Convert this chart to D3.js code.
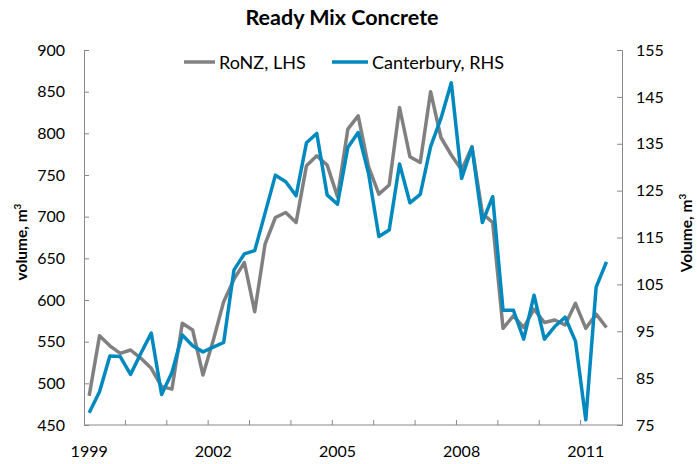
<!DOCTYPE html>
<html>
<head>
<meta charset="utf-8">
<script src="https://cdn.jsdelivr.net/npm/d3@7"></script>
<style>
  body { margin: 0; background: #fff; }
  text { font-family: Lato, "Open Sans", sans-serif; fill: #000; }
</style>
</head>
<body>
<div id="chart"></div>
<script>
// quarterly, 1999 Q1 .. 2011 Q3 (axis runs to 2011 Q4)
const years = d3.range(1999, 2012);
const quarters = [];
years.forEach(y => [1, 2, 3, 4].forEach(q => quarters.push(y + "Q" + q)));

const ronz = [485, 557, 545, 536, 540, 530, 518, 496, 493, 572, 564, 510,
  552, 598, 625, 645, 586, 667, 699, 705, 693, 761, 773, 762,
  724, 805, 821, 760, 727, 738, 831, 772, 765, 850, 795, 774,
  756, 784, 704, 693, 566, 581, 567, 589, 573, 576, 570, 596,
  566, 583, 567];

const canterbury = [77.6, 82.1, 89.7, 89.6, 85.8, 90.3, 94.6, 81.5, 86.2, 94.2, 91.9, 90.6,
  91.6, 92.6, 108.1, 111.5, 112.2, 120.2, 128.3, 126.9, 123.9, 135.2, 137.2, 124.1,
  122.1, 134.2, 137.4, 128.7, 115.2, 116.6, 130.7, 122.4, 124.2, 134.4, 140.4, 148.0,
  127.6, 134.2, 118.2, 123.7, 99.5, 99.5, 93.3, 102.7, 93.3, 96.0, 98.0, 92.9,
  76.1, 104.4, 109.8];

const xLabels = ["1999", "2002", "2005", "2008", "2011"];
const leftTicks = d3.range(450, 901, 50);
const rightTicks = d3.range(75, 156, 10);

const w = 697, h = 464;
const mLeft = 84, mRight = 622, mTop = 50, mBottom = 425;
const grey = "#808080", blue = "#0089bf", axisCol = "#888";

const svg = d3.select("#chart").append("svg")
  .attr("width", w).attr("height", h);

const x = d3.scaleBand().domain(quarters).range([mLeft, mRight]);
const yL = d3.scaleLinear().domain([450, 900]).range([mBottom, mTop]);
const yR = d3.scaleLinear().domain([75, 155]).range([mBottom, mTop]);
const cx = q => x(q) + x.bandwidth() / 2;

// title
svg.append("text").attr("x", 342).attr("y", 25)
  .attr("text-anchor", "middle").attr("font-size", 21.5).attr("font-weight", "bold")
  .text("Ready Mix Concrete");

// left axis
const gL = svg.append("g").attr("transform", "translate(" + mLeft + ",0)")
  .call(d3.axisLeft(yL).tickValues(leftTicks).tickSizeInner(-5).tickSizeOuter(-5).tickPadding(19));
// right axis
const gR = svg.append("g").attr("transform", "translate(" + mRight + ",0)")
  .call(d3.axisRight(yR).tickValues(rightTicks).tickSizeInner(-5).tickSizeOuter(-5).tickPadding(14));
// bottom axis: ticks every year, labels every 3 years
const gB = svg.append("g").attr("transform", "translate(0," + mBottom + ")");
gB.append("line").attr("x1", mLeft).attr("x2", mRight).attr("stroke", axisCol);
gB.selectAll(".tk").data(quarters.filter((q, i) => i % 4 === 0 && i > 0))
  .enter().append("line")
  .attr("x1", d => x(d)).attr("x2", d => x(d)).attr("y1", 0).attr("y2", -5)
  .attr("stroke", axisCol);
gB.selectAll(".lb").data(xLabels).enter().append("text")
  .attr("x", d => cx(d + "Q1")).attr("y", 32)
  .attr("text-anchor", "middle").attr("font-size", 16).text(d => d);

[gL, gR].forEach(g => {
  g.select(".domain").attr("stroke", axisCol);
  g.selectAll(".tick line").attr("stroke", axisCol);
  g.selectAll(".tick text").attr("font-size", 16)
    .style("font-family", "Lato, sans-serif").attr("fill", "#000");
});

// axis titles
svg.append("text").attr("transform", "translate(27,242) rotate(-90)")
  .attr("text-anchor", "middle").attr("font-size", 15.5).attr("font-weight", "bold")
  .html("volume, m<tspan dy='-6' font-size='10'>3</tspan>");
svg.append("text").attr("transform", "translate(692,233) rotate(-90)")
  .attr("text-anchor", "middle").attr("font-size", 15.5).attr("font-weight", "bold")
  .html("Volume, m<tspan dy='-6' font-size='10'>3</tspan>");

// lines
const lineL = d3.line().x((d, i) => cx(quarters[i])).y(d => yL(d));
const lineR = d3.line().x((d, i) => cx(quarters[i])).y(d => yR(d));
svg.append("path").datum(ronz).attr("d", lineL)
  .attr("fill", "none").attr("stroke", grey).attr("stroke-width", 3.5)
  .attr("stroke-linejoin", "round");
svg.append("path").datum(canterbury).attr("d", lineR)
  .attr("fill", "none").attr("stroke", blue).attr("stroke-width", 3.5)
  .attr("stroke-linejoin", "round");

// legend
const legend = [
  { name: "RoNZ, LHS", col: grey, x: 184, len: 31 },
  { name: "Canterbury, RHS", col: blue, x: 332, len: 36 }
];
const lg = svg.selectAll(".leg").data(legend).enter().append("g")
  .attr("transform", d => "translate(" + d.x + ",62)");
lg.append("line").attr("x1", 0).attr("x2", d => d.len)
  .attr("stroke", d => d.col).attr("stroke-width", 3.5);
lg.append("text").attr("x", d => d.len + 4).attr("y", 6.5).attr("font-size", 18).text(d => d.name);
</script>
</body>
</html>
